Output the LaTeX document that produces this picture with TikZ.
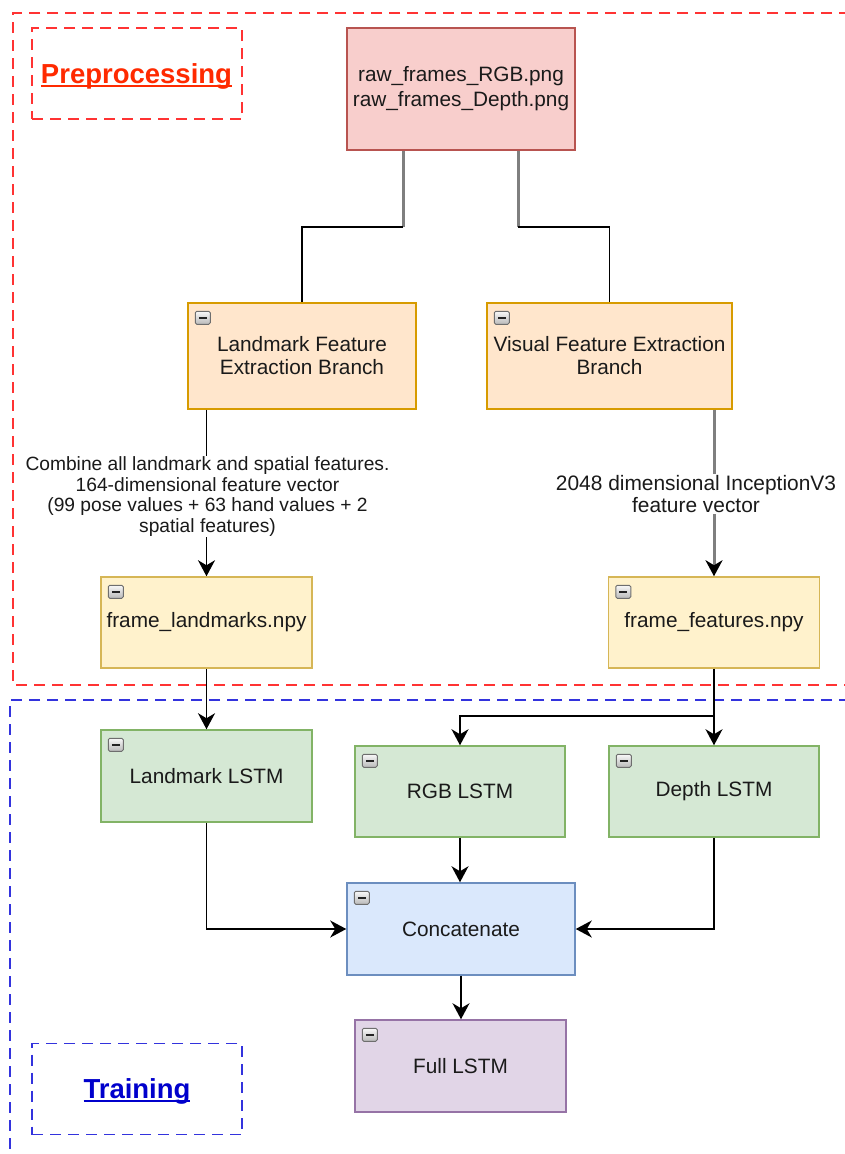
\documentclass[tikz,border=0pt]{standalone}
\usepackage{fontspec}
\setmainfont{Liberation Sans}
\usetikzlibrary{arrows.meta,calc}

\definecolor{txt}{HTML}{1A1A1A}
\definecolor{redF}{HTML}{F8CECC}\definecolor{redD}{HTML}{B85450}
\definecolor{orF}{HTML}{FFE6CC}\definecolor{orD}{HTML}{D79B00}
\definecolor{yeF}{HTML}{FFF2CC}\definecolor{yeD}{HTML}{D6B656}
\definecolor{grF}{HTML}{D5E8D4}\definecolor{grD}{HTML}{82B366}
\definecolor{blF}{HTML}{DAE8FC}\definecolor{blD}{HTML}{6C8EBF}
\definecolor{puF}{HTML}{E1D5E7}\definecolor{puD}{HTML}{9673A6}
\definecolor{zoneRed}{HTML}{FF3333}
\definecolor{zoneBlue}{HTML}{3333DD}
\definecolor{titleRed}{HTML}{FF2A00}
\definecolor{titleBlue}{HTML}{0000CC}
\definecolor{pipe}{HTML}{7F7F7F}

% underlined title text, rule drawn in the current colour
\newcommand\titleline[1]{\leavevmode\setbox0\hbox{#1}\rlap{\rule[-3.5pt]{\wd0}{2pt}}\box0}

\tikzset{
  card/.style={draw, line width=1.5pt, rectangle, align=center, text=txt,
    font=\fontsize{20.8}{24}\selectfont, inner sep=2pt},
  rawcard/.style={card, fill=redF, draw=redD, minimum width=228pt, minimum height=122pt},
  branchcard/.style={card, fill=orF, draw=orD, minimum height=106pt},
  npycard/.style={card, fill=yeF, draw=yeD, minimum width=211pt, minimum height=91pt},
  lstmcard/.style={card, fill=grF, draw=grD, minimum width=211pt, minimum height=92pt},
  catcard/.style={card, fill=blF, draw=blD, minimum width=228pt, minimum height=92pt},
  fullcard/.style={card, fill=puF, draw=puD, minimum width=211pt, minimum height=92pt},
  conn/.style={draw=black, line width=1.8pt},
  pipeline/.style={draw=pipe, line width=3pt},
  tip/.style={-{Stealth[length=16pt,width=17pt,inset=5pt,black]}},
  zone/.style={line width=1.6pt, dash pattern=on 11pt off 7pt},
  tag/.style={rectangle, line width=1.6pt, dash pattern=on 11pt off 7pt,
    minimum width=210pt, minimum height=91pt, font=\fontsize{27.5}{30}\selectfont\bfseries},
  edgelabel/.style={fill=white, align=center, text=txt, inner sep=1pt},
}

% collapse button in the top-left corner of a container
\newcommand\boxicon[1]{%
  \draw[draw={rgb,255:red,110;green,110;blue,110}, line width=1pt, rounded corners=1.5pt,
        top color={rgb,255:red,248;green,248;blue,248},
        bottom color={rgb,255:red,185;green,185;blue,185}]
    ($(#1.north west)+(8,9)$) rectangle ++(15,13);
  \draw[line width=2.2pt, draw={rgb,255:red,35;green,35;blue,35}]
    ($(#1.north west)+(11.5,15.5)$) -- ++(8,0);
}

\begin{document}
\begin{tikzpicture}[x=1pt,y=-1pt]
\useasboundingbox (0,0) rectangle (844,1154);
\fill[white] (0,0) rectangle (844,1154);

% swimlane frames
\draw[zone, draw=zoneRed] (850,13) -- (13,13) -- (13,685) -- (850,685);
\draw[zone, draw=zoneBlue] (850,700) -- (10,700) -- (10,1160);

\node[tag, draw=zoneRed, text=titleRed] (pretag) at (137,73.5) {};
\node[text=titleRed, font=\fontsize{27.5}{30}\selectfont\bfseries] (pretitle) at (136.5,76) {\titleline{Preprocessing}};
\node[tag, draw=zoneBlue, text=titleBlue] (traintag) at (137,1089) {};
\node[text=titleBlue, font=\fontsize{27.5}{30}\selectfont\bfseries] (traintitle) at (137,1091) {\titleline{Training}};

% nodes
\node[rawcard] (raw) at (461,89) {raw\_frames\_RGB.png\\[1pt]raw\_frames\_Depth.png};
\node[branchcard, minimum width=228pt] (lfeb) at (302,356) {Landmark Feature\\[-1pt]Extraction Branch};
\node[branchcard, minimum width=245pt] (vfeb) at (609.5,356) {Visual Feature Extraction\\[-1pt]Branch};
\node[npycard] (flm) at (206.5,622.5) {frame\_landmarks.npy};
\node[npycard] (ffe) at (714,622.5) {frame\_features.npy};
\node[lstmcard] (llstm) at (206.5,776) {Landmark LSTM};
\node[lstmcard, minimum width=210pt, minimum height=91pt] (rgb) at (460,791.5) {RGB LSTM};
\node[lstmcard, minimum width=210pt, minimum height=91pt] (dep) at (714,791.5) {Depth LSTM};
\node[catcard] (cat) at (461,929) {Concatenate};
\node[fullcard] (full) at (460.5,1066) {Full LSTM};

\foreach \n in {lfeb,vfeb,flm,ffe,llstm,rgb,dep,cat,full} {\boxicon{\n}}

% raw frames to the two branches
\draw[pipeline] ([xshift=-58pt]raw.south) -- ++(0,76) coordinate (jl);
\draw[conn] (jl) -| (lfeb.north);
\draw[pipeline] ([xshift=57pt]raw.south) -- ++(0,76) coordinate (jr);
\draw[conn] (jr) -| (vfeb.north);

% branches to stored features
\draw[conn, tip] (lfeb.south -| flm.north) -- (flm.north);
\node[edgelabel, font=\fontsize{19.2}{20.5}\selectfont] (lmlabel) at (207.5,496.5)
  {Combine all landmark and spatial features.\\164-dimensional feature vector\\(99 pose values + 63 hand values + 2\\spatial features)};
\draw[pipeline, tip] (vfeb.south -| ffe.north) -- (ffe.north);
\node[edgelabel, font=\fontsize{20.9}{22}\selectfont] (vislabel) at (696,494)
  {2048 dimensional InceptionV3\\feature vector};

% training stage
\draw[conn, tip] (flm.south) -- (llstm.north);
\draw[conn, tip] (ffe.south) -- (dep.north);
\draw[conn, tip] (ffe.south) -- ++(0,47) -| (rgb.north);
\draw[conn, tip] (llstm.south) |- (cat.west);
\draw[conn, tip] (dep.south) |- (cat.east);
\draw[conn, tip] (rgb.south) -- (rgb.south |- cat.north);
\draw[conn, tip] (cat.south) -- (cat.south |- full.north);
\end{tikzpicture}
\end{document}
